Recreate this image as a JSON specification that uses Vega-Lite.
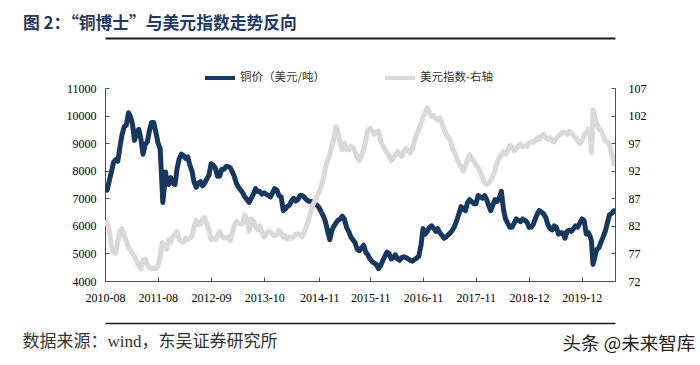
{
  "$schema": "https://vega.github.io/schema/vega-lite/v6.json",
  "width": 510,
  "height": 193,
  "autosize": {"type": "none"},
  "padding": {"left": 105, "top": 88, "right": 85, "bottom": 84},
  "background": "#ffffff",
  "title": {
    "text": "图 2：“铜博士”与美元指数走势反向",
    "anchor": "start",
    "frame": "group",
    "dx": -82,
    "offset": 5,
    "font": "Noto Sans CJK SC",
    "fontSize": 16.8,
    "fontWeight": "bold",
    "color": "#1F3864"
  },
  "data": {
    "format": {"parse": {"date": "date"}},
    "values": [
      {"date": "2010-08-16", "copper": 7350, "usd": 83.0},
      {"date": "2010-09-01", "copper": 7300, "usd": 82.5},
      {"date": "2010-09-16", "copper": 7650, "usd": 81.2},
      {"date": "2010-10-01", "copper": 7950, "usd": 78.5},
      {"date": "2010-10-16", "copper": 8300, "usd": 77.3},
      {"date": "2010-11-01", "copper": 8400, "usd": 77.0},
      {"date": "2010-11-16", "copper": 8350, "usd": 79.3},
      {"date": "2010-12-01", "copper": 8850, "usd": 81.0},
      {"date": "2010-12-16", "copper": 9300, "usd": 81.5},
      {"date": "2011-01-01", "copper": 9600, "usd": 80.2},
      {"date": "2011-01-16", "copper": 9650, "usd": 79.2},
      {"date": "2011-02-01", "copper": 10100, "usd": 78.0},
      {"date": "2011-02-16", "copper": 9950, "usd": 77.6},
      {"date": "2011-03-01", "copper": 9700, "usd": 77.0},
      {"date": "2011-03-16", "copper": 9100, "usd": 76.4},
      {"date": "2011-04-01", "copper": 9400, "usd": 75.6},
      {"date": "2011-04-16", "copper": 9500, "usd": 74.8},
      {"date": "2011-05-01", "copper": 9150, "usd": 74.2},
      {"date": "2011-05-16", "copper": 8600, "usd": 75.8},
      {"date": "2011-06-01", "copper": 8950, "usd": 76.0},
      {"date": "2011-06-16", "copper": 9050, "usd": 75.0},
      {"date": "2011-07-01", "copper": 9450, "usd": 74.5},
      {"date": "2011-07-16", "copper": 9750, "usd": 74.2},
      {"date": "2011-08-01", "copper": 9750, "usd": 74.4},
      {"date": "2011-08-16", "copper": 9400, "usd": 74.2},
      {"date": "2011-09-01", "copper": 9000, "usd": 74.8},
      {"date": "2011-09-16", "copper": 8800, "usd": 76.5},
      {"date": "2011-10-01", "copper": 7300, "usd": 79.0},
      {"date": "2011-10-05", "copper": 6850, "usd": null},
      {"date": "2011-10-16", "copper": 7400, "usd": 78.0},
      {"date": "2011-10-25", "copper": 7950, "usd": null},
      {"date": "2011-11-01", "copper": 7600, "usd": 77.8},
      {"date": "2011-11-16", "copper": 7500, "usd": 79.5},
      {"date": "2011-12-01", "copper": 7750, "usd": 79.0},
      {"date": "2011-12-16", "copper": 7550, "usd": 80.0},
      {"date": "2012-01-01", "copper": 7500, "usd": 80.5},
      {"date": "2012-01-16", "copper": 8100, "usd": 81.0},
      {"date": "2012-02-01", "copper": 8450, "usd": 79.5},
      {"date": "2012-02-16", "copper": 8600, "usd": 79.2},
      {"date": "2012-03-01", "copper": 8550, "usd": 79.0},
      {"date": "2012-03-16", "copper": 8450, "usd": 79.8},
      {"date": "2012-04-01", "copper": 8500, "usd": 79.5},
      {"date": "2012-04-16", "copper": 8200, "usd": 79.8},
      {"date": "2012-05-01", "copper": 8000, "usd": 80.0},
      {"date": "2012-05-16", "copper": 7600, "usd": 81.8},
      {"date": "2012-06-01", "copper": 7400, "usd": 83.0},
      {"date": "2012-06-16", "copper": 7550, "usd": 82.2},
      {"date": "2012-07-01", "copper": 7600, "usd": 82.3},
      {"date": "2012-07-16", "copper": 7450, "usd": 83.2},
      {"date": "2012-08-01", "copper": 7550, "usd": 83.5},
      {"date": "2012-08-16", "copper": 7700, "usd": 82.3},
      {"date": "2012-09-01", "copper": 7850, "usd": 81.3},
      {"date": "2012-09-16", "copper": 8250, "usd": 79.5},
      {"date": "2012-10-01", "copper": 8200, "usd": 79.8},
      {"date": "2012-10-16", "copper": 8100, "usd": 79.5},
      {"date": "2012-11-01", "copper": 7800, "usd": 80.2},
      {"date": "2012-11-16", "copper": 7800, "usd": 81.0},
      {"date": "2012-12-01", "copper": 8050, "usd": 80.3},
      {"date": "2012-12-16", "copper": 8050, "usd": 79.8},
      {"date": "2013-01-01", "copper": 8150, "usd": 79.8},
      {"date": "2013-01-16", "copper": 8150, "usd": 80.0},
      {"date": "2013-02-01", "copper": 8100, "usd": 79.3},
      {"date": "2013-02-16", "copper": 7950, "usd": 80.8},
      {"date": "2013-03-01", "copper": 7800, "usd": 82.0},
      {"date": "2013-03-16", "copper": 7550, "usd": 82.8},
      {"date": "2013-04-01", "copper": 7400, "usd": 82.5},
      {"date": "2013-04-16", "copper": 7300, "usd": 82.3},
      {"date": "2013-05-01", "copper": 7200, "usd": 82.5},
      {"date": "2013-05-16", "copper": 7050, "usd": 84.0},
      {"date": "2013-06-01", "copper": 6950, "usd": 83.2},
      {"date": "2013-06-16", "copper": 6850, "usd": 81.0},
      {"date": "2013-07-01", "copper": 7000, "usd": 83.3},
      {"date": "2013-07-16", "copper": 7150, "usd": 83.0},
      {"date": "2013-08-01", "copper": 7350, "usd": 81.8},
      {"date": "2013-08-16", "copper": 7250, "usd": 81.3},
      {"date": "2013-09-01", "copper": 7250, "usd": 82.0},
      {"date": "2013-09-16", "copper": 7150, "usd": 80.8},
      {"date": "2013-10-01", "copper": 7200, "usd": 80.0},
      {"date": "2013-10-16", "copper": 7150, "usd": 80.6},
      {"date": "2013-11-01", "copper": 7100, "usd": 81.0},
      {"date": "2013-11-16", "copper": 7050, "usd": 80.8},
      {"date": "2013-12-01", "copper": 7200, "usd": 80.5},
      {"date": "2013-12-16", "copper": 7350, "usd": 80.2},
      {"date": "2014-01-01", "copper": 7300, "usd": 80.4},
      {"date": "2014-01-16", "copper": 7100, "usd": 81.2},
      {"date": "2014-02-01", "copper": 7050, "usd": 80.8},
      {"date": "2014-02-16", "copper": 6550, "usd": 80.0},
      {"date": "2014-03-01", "copper": 6600, "usd": 80.2},
      {"date": "2014-03-16", "copper": 6700, "usd": 79.6},
      {"date": "2014-04-01", "copper": 6750, "usd": 80.0},
      {"date": "2014-04-16", "copper": 6900, "usd": 79.7},
      {"date": "2014-05-01", "copper": 7000, "usd": 80.0},
      {"date": "2014-05-16", "copper": 6900, "usd": 80.5},
      {"date": "2014-06-01", "copper": 6950, "usd": 80.6},
      {"date": "2014-06-16", "copper": 7100, "usd": 80.3},
      {"date": "2014-07-01", "copper": 7100, "usd": 80.0},
      {"date": "2014-07-16", "copper": 7050, "usd": 80.8},
      {"date": "2014-08-01", "copper": 6950, "usd": 82.0},
      {"date": "2014-08-16", "copper": 6900, "usd": 83.0},
      {"date": "2014-09-01", "copper": 6880, "usd": 84.5},
      {"date": "2014-09-16", "copper": 6870, "usd": 85.8},
      {"date": "2014-10-01", "copper": 6800, "usd": 86.5},
      {"date": "2014-10-16", "copper": 6750, "usd": 87.3},
      {"date": "2014-11-01", "copper": 6650, "usd": 88.3},
      {"date": "2014-11-16", "copper": 6500, "usd": 89.2},
      {"date": "2014-12-01", "copper": 6350, "usd": 90.5},
      {"date": "2014-12-16", "copper": 6150, "usd": 92.5},
      {"date": "2015-01-01", "copper": 5800, "usd": 94.0},
      {"date": "2015-01-16", "copper": 5500, "usd": 95.0},
      {"date": "2015-02-01", "copper": 5850, "usd": 96.5},
      {"date": "2015-02-16", "copper": 6000, "usd": 98.0},
      {"date": "2015-03-01", "copper": 6100, "usd": 100.0},
      {"date": "2015-03-16", "copper": 6200, "usd": 99.0},
      {"date": "2015-04-01", "copper": 6250, "usd": 97.0},
      {"date": "2015-04-16", "copper": 6350, "usd": 95.8},
      {"date": "2015-05-01", "copper": 6250, "usd": 97.0},
      {"date": "2015-05-16", "copper": 5950, "usd": 95.8},
      {"date": "2015-06-01", "copper": 5800, "usd": 95.8},
      {"date": "2015-06-16", "copper": 5600, "usd": 96.5},
      {"date": "2015-07-01", "copper": 5500, "usd": 96.2},
      {"date": "2015-07-16", "copper": 5400, "usd": 95.5},
      {"date": "2015-08-01", "copper": 5150, "usd": 94.3},
      {"date": "2015-08-16", "copper": 5100, "usd": 93.8},
      {"date": "2015-09-01", "copper": 5200, "usd": 94.8},
      {"date": "2015-09-16", "copper": 5300, "usd": 95.8},
      {"date": "2015-10-01", "copper": 5050, "usd": 97.4},
      {"date": "2015-10-16", "copper": 4950, "usd": 99.3},
      {"date": "2015-11-01", "copper": 4800, "usd": 99.7},
      {"date": "2015-11-16", "copper": 4700, "usd": 99.2},
      {"date": "2015-12-01", "copper": 4650, "usd": 98.6},
      {"date": "2015-12-16", "copper": 4600, "usd": 99.0},
      {"date": "2016-01-01", "copper": 4450, "usd": 99.2},
      {"date": "2016-01-16", "copper": 4550, "usd": 97.5},
      {"date": "2016-02-01", "copper": 4750, "usd": 96.5},
      {"date": "2016-02-16", "copper": 4900, "usd": 95.8},
      {"date": "2016-03-01", "copper": 5050, "usd": 95.3},
      {"date": "2016-03-16", "copper": 5000, "usd": 94.8},
      {"date": "2016-04-01", "copper": 4800, "usd": 93.8},
      {"date": "2016-04-16", "copper": 4850, "usd": 94.2},
      {"date": "2016-05-01", "copper": 4950, "usd": 94.9},
      {"date": "2016-05-16", "copper": 4800, "usd": 95.5},
      {"date": "2016-06-01", "copper": 4750, "usd": 95.0},
      {"date": "2016-06-16", "copper": 4850, "usd": 94.6},
      {"date": "2016-07-01", "copper": 4880, "usd": 95.5},
      {"date": "2016-07-16", "copper": 4850, "usd": 96.1},
      {"date": "2016-08-01", "copper": 4800, "usd": 95.5},
      {"date": "2016-08-16", "copper": 4750, "usd": 95.2},
      {"date": "2016-09-01", "copper": 4720, "usd": 96.0},
      {"date": "2016-09-16", "copper": 4780, "usd": 97.5},
      {"date": "2016-10-01", "copper": 4830, "usd": 98.6},
      {"date": "2016-10-16", "copper": 4900, "usd": 99.5},
      {"date": "2016-11-01", "copper": 5300, "usd": 100.5},
      {"date": "2016-11-16", "copper": 5900, "usd": 101.8},
      {"date": "2016-12-01", "copper": 5700, "usd": 102.5},
      {"date": "2016-12-16", "copper": 5800, "usd": 103.4},
      {"date": "2017-01-01", "copper": 5950, "usd": 102.6},
      {"date": "2017-01-16", "copper": 6000, "usd": 101.8},
      {"date": "2017-02-01", "copper": 5900, "usd": 102.0},
      {"date": "2017-02-16", "copper": 5800, "usd": 101.4},
      {"date": "2017-03-01", "copper": 5900, "usd": 101.2},
      {"date": "2017-03-16", "copper": 5750, "usd": 101.6},
      {"date": "2017-04-01", "copper": 5650, "usd": 100.5},
      {"date": "2017-04-16", "copper": 5550, "usd": 99.5},
      {"date": "2017-05-01", "copper": 5600, "usd": 98.6},
      {"date": "2017-05-16", "copper": 5680, "usd": 98.0},
      {"date": "2017-06-01", "copper": 5750, "usd": 97.4},
      {"date": "2017-06-16", "copper": 5850, "usd": 96.0},
      {"date": "2017-07-01", "copper": 6000, "usd": 95.2},
      {"date": "2017-07-16", "copper": 6200, "usd": 94.3},
      {"date": "2017-08-01", "copper": 6450, "usd": 93.4},
      {"date": "2017-08-16", "copper": 6700, "usd": 92.8},
      {"date": "2017-09-01", "copper": 6600, "usd": 91.9},
      {"date": "2017-09-16", "copper": 6550, "usd": 92.8},
      {"date": "2017-10-01", "copper": 6850, "usd": 94.0},
      {"date": "2017-10-16", "copper": 6950, "usd": 94.9},
      {"date": "2017-11-01", "copper": 6880, "usd": 94.2},
      {"date": "2017-11-16", "copper": 6800, "usd": 93.7},
      {"date": "2017-12-01", "copper": 6800, "usd": 93.0},
      {"date": "2017-12-16", "copper": 7100, "usd": 92.5},
      {"date": "2018-01-01", "copper": 7050, "usd": 91.8},
      {"date": "2018-01-16", "copper": 7000, "usd": 90.8},
      {"date": "2018-02-01", "copper": 7100, "usd": 89.8},
      {"date": "2018-02-16", "copper": 6950, "usd": 89.5},
      {"date": "2018-03-01", "copper": 6750, "usd": 89.8},
      {"date": "2018-03-16", "copper": 6550, "usd": 90.2},
      {"date": "2018-04-01", "copper": 6750, "usd": 91.0},
      {"date": "2018-04-16", "copper": 6950, "usd": 92.0},
      {"date": "2018-05-01", "copper": 6880, "usd": 93.4},
      {"date": "2018-05-16", "copper": 7000, "usd": 94.3},
      {"date": "2018-06-01", "copper": 7250, "usd": 95.0},
      {"date": "2018-06-16", "copper": 6600, "usd": 95.5},
      {"date": "2018-07-01", "copper": 6250, "usd": 95.0},
      {"date": "2018-07-16", "copper": 6100, "usd": 95.6},
      {"date": "2018-08-01", "copper": 5950, "usd": 96.6},
      {"date": "2018-08-16", "copper": 5950, "usd": 96.3},
      {"date": "2018-09-01", "copper": 6100, "usd": 95.6},
      {"date": "2018-09-16", "copper": 6250, "usd": 96.0},
      {"date": "2018-10-01", "copper": 6200, "usd": 96.5},
      {"date": "2018-10-16", "copper": 6150, "usd": 96.8},
      {"date": "2018-11-01", "copper": 6250, "usd": 96.3},
      {"date": "2018-11-16", "copper": 6200, "usd": 96.5},
      {"date": "2018-12-01", "copper": 6150, "usd": 96.4},
      {"date": "2018-12-16", "copper": 5950, "usd": 97.0},
      {"date": "2019-01-01", "copper": 5950, "usd": 97.3},
      {"date": "2019-01-16", "copper": 6050, "usd": 97.1},
      {"date": "2019-02-01", "copper": 6280, "usd": 97.5},
      {"date": "2019-02-16", "copper": 6450, "usd": 98.0},
      {"date": "2019-03-01", "copper": 6550, "usd": 97.7},
      {"date": "2019-03-16", "copper": 6500, "usd": 98.3},
      {"date": "2019-04-01", "copper": 6430, "usd": 98.6},
      {"date": "2019-04-16", "copper": 6300, "usd": 98.0},
      {"date": "2019-05-01", "copper": 6050, "usd": 97.7},
      {"date": "2019-05-16", "copper": 5900, "usd": 98.0},
      {"date": "2019-06-01", "copper": 5850, "usd": 97.4},
      {"date": "2019-06-16", "copper": 6000, "usd": 97.2},
      {"date": "2019-07-01", "copper": 5950, "usd": 97.9},
      {"date": "2019-07-16", "copper": 5700, "usd": 98.3},
      {"date": "2019-08-01", "copper": 5750, "usd": 98.6},
      {"date": "2019-08-16", "copper": 5750, "usd": 99.0},
      {"date": "2019-09-01", "copper": 5550, "usd": 98.9},
      {"date": "2019-09-16", "copper": 5800, "usd": 98.6},
      {"date": "2019-10-01", "copper": 5850, "usd": 99.2},
      {"date": "2019-10-16", "copper": 5800, "usd": 98.9},
      {"date": "2019-11-01", "copper": 5900, "usd": 98.4},
      {"date": "2019-11-16", "copper": 6000, "usd": 98.0},
      {"date": "2019-12-01", "copper": 5950, "usd": 97.4},
      {"date": "2019-12-16", "copper": 6100, "usd": 96.9},
      {"date": "2020-01-01", "copper": 6250, "usd": 97.5},
      {"date": "2020-01-16", "copper": 6200, "usd": 98.4},
      {"date": "2020-02-01", "copper": 5700, "usd": 99.0},
      {"date": "2020-02-16", "copper": 5750, "usd": 99.6},
      {"date": "2020-03-01", "copper": 5600, "usd": 98.0},
      {"date": "2020-03-09", "copper": 5450, "usd": 95.3},
      {"date": "2020-03-16", "copper": 4900, "usd": 99.0},
      {"date": "2020-03-20", "copper": 4600, "usd": 103.0},
      {"date": "2020-04-01", "copper": 4850, "usd": 101.8},
      {"date": "2020-04-16", "copper": 5150, "usd": 100.5},
      {"date": "2020-05-01", "copper": 5200, "usd": 99.6},
      {"date": "2020-05-16", "copper": 5400, "usd": 99.3},
      {"date": "2020-06-01", "copper": 5600, "usd": 98.4},
      {"date": "2020-06-16", "copper": 5800, "usd": 97.4},
      {"date": "2020-07-01", "copper": 6100, "usd": 97.2},
      {"date": "2020-07-16", "copper": 6400, "usd": 96.6},
      {"date": "2020-08-01", "copper": 6450, "usd": 95.0},
      {"date": "2020-08-16", "copper": 6550, "usd": 93.5},
      {"date": "2020-08-25", "copper": 6550, "usd": 92.8}
    ]
  },
  "layer": [
    {
      "transform": [
        {"filter": {"field": "copper", "valid": true}},
        {"filter": {"field": "date", "lte": {"year": 2014, "month": 11, "date": 17}}}
      ],
      "mark": {"type": "line", "strokeWidth": 5, "strokeJoin": "round", "clip": true},
      "encoding": {
        "x": {
          "field": "date", "type": "temporal",
          "scale": {"domain": [{"year": 2010, "month": 8, "date": 16}, {"year": 2020, "month": 8, "date": 25}]},
          "axis": {"orient": "top", "offset": 50, "labels": false, "ticks": false, "title": null, "domainColor": "#1a1a1a", "domainWidth": 2}
        },
        "y": {
          "field": "copper", "type": "quantitative",
          "scale": {"domain": [4000, 11000], "nice": false, "zero": false},
          "axis": {"orient": "left", "values": [4000, 5000, 6000, 7000, 8000, 9000, 10000, 11000], "format": "d", "title": null, "labelPadding": 13}
        },
        "color": {
          "datum": "铜价（美元/吨）",
          "type": "nominal",
          "scale": {"domain": ["铜价（美元/吨）", "美元指数-右轴"], "range": ["#17375E", "#D9D9D9"]},
          "legend": {
            "title": null,
            "orient": "none",
            "direction": "horizontal",
            "legendX": 98,
            "legendY": -27,
            "symbolType": "stroke",
            "symbolSize": 900,
            "symbolStrokeWidth": 4,
            "labelFont": "Noto Sans CJK SC",
            "labelFontSize": 11.5,
            "labelColor": "#333333",
            "labelOffset": 3,
            "columnPadding": 51
          }
        }
      }
    },
    {
      "transform": [{"filter": {"field": "usd", "valid": true}}],
      "mark": {"type": "line", "strokeWidth": 5, "strokeJoin": "round", "clip": true},
      "encoding": {
        "x": {
          "field": "date", "type": "temporal",
          "scale": {"domain": [{"year": 2010, "month": 8, "date": 16}, {"year": 2020, "month": 8, "date": 25}]},
          "axis": {
            "orient": "bottom",
            "values": [
              {"year": 2010, "month": 8, "date": 16},
              {"year": 2011, "month": 8, "date": 30},
              {"year": 2012, "month": 9, "date": 16},
              {"year": 2013, "month": 10, "date": 2},
              {"year": 2014, "month": 11, "date": 2},
              {"year": 2015, "month": 11, "date": 2},
              {"year": 2016, "month": 11, "date": 16},
              {"year": 2017, "month": 11, "date": 29},
              {"year": 2018, "month": 12, "date": 16},
              {"year": 2019, "month": 12, "date": 30}
            ],
            "format": "%Y-%m",
            "labelPadding": 15,
            "labelOverlap": false,
            "labelFlush": false,
            "title": "数据来源：wind，东吴证券研究所",
            "titleFont": "Liberation Serif, Noto Sans CJK SC",
            "titleFontSize": 17,
            "titleFontWeight": "normal",
            "titleColor": "#333333",
            "titleAnchor": "start",
            "titleAlign": "left",
            "titleBaseline": "middle",
            "titleX": -83,
            "titleY": 60
          }
        },
        "y": {
          "field": "usd", "type": "quantitative",
          "scale": {"domain": [72, 107], "nice": false, "zero": false},
          "axis": {"orient": "right", "values": [72, 77, 82, 87, 92, 97, 102, 107], "title": null, "labelPadding": 17}
        },
        "color": {"datum": "美元指数-右轴", "type": "nominal"}
      }
    },
    {
      "transform": [
        {"filter": {"field": "copper", "valid": true}},
        {"filter": {"field": "date", "gte": {"year": 2014, "month": 11, "date": 15}}}
      ],
      "mark": {"type": "line", "strokeWidth": 5, "strokeJoin": "round", "clip": true},
      "encoding": {
        "x": {
          "field": "date", "type": "temporal",
          "scale": {"domain": [{"year": 2010, "month": 8, "date": 16}, {"year": 2020, "month": 8, "date": 25}]},
          "axis": {
            "orient": "bottom", "offset": 42, "labels": false, "ticks": false,
            "domainColor": "#1a1a1a", "domainWidth": 1.5,
            "title": "头条 @未来智库",
            "titleFont": "Noto Sans CJK SC",
            "titleFontSize": 18.5,
            "titleFontWeight": "normal",
            "titleColor": "#222222",
            "titleAnchor": "start",
            "titleAlign": "left",
            "titleBaseline": "middle",
            "titleX": 457,
            "titleY": 20
          }
        },
        "y": {
          "field": "copper", "type": "quantitative",
          "scale": {"domain": [4000, 11000], "nice": false, "zero": false},
          "axis": null
        },
        "color": {"datum": "铜价（美元/吨）", "type": "nominal"}
      }
    }
  ],
  "resolve": {"scale": {"y": "independent"}, "axis": {"x": "independent", "y": "independent"}},
  "config": {
    "view": {"stroke": null},
    "font": "Noto Sans CJK SC",
    "axis": {
      "grid": false,
      "labelFont": "Liberation Serif",
      "labelFontSize": 12,
      "labelColor": "#000000",
      "domainColor": "#4d4d4d",
      "domainWidth": 1,
      "tickColor": "#4d4d4d",
      "tickWidth": 1,
      "tickSize": -4
    }
  }
}
